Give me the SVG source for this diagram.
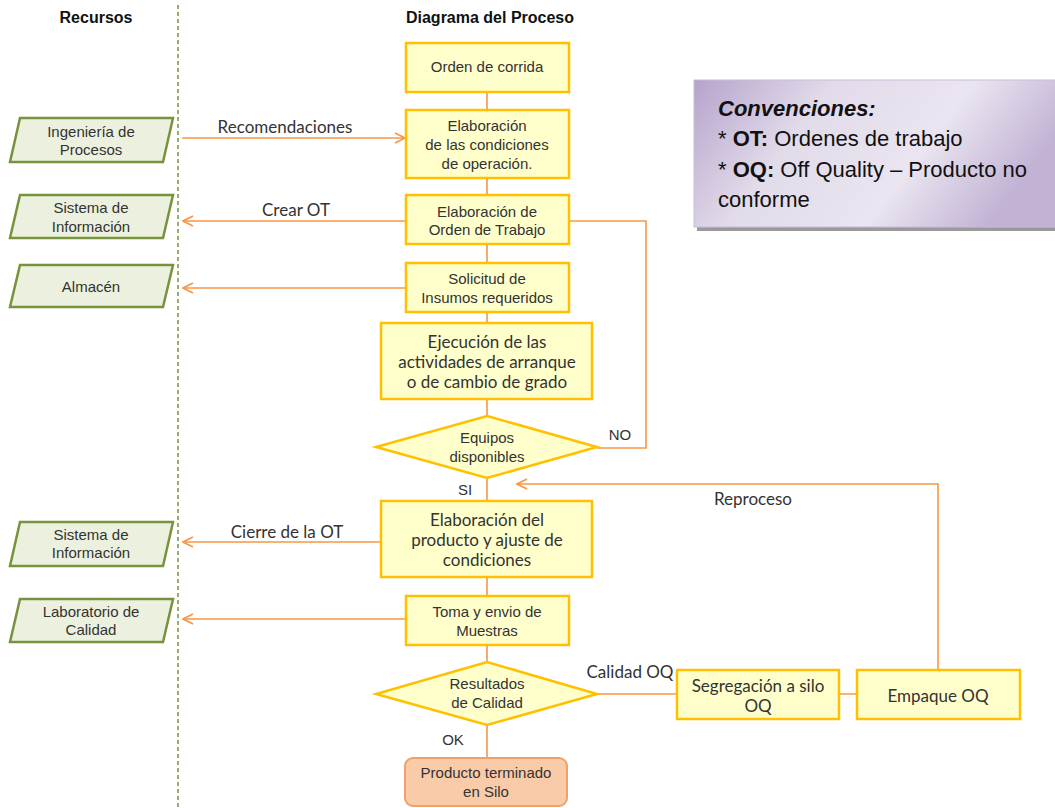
<svg xmlns="http://www.w3.org/2000/svg" width="1055" height="808" viewBox="0 0 1055 808">
  <style>
    .box { fill: #FFFFCC; stroke: #FFC000; stroke-width: 2.5; }
    .end { fill: #F9CBA9; stroke: #EDA26C; stroke-width: 2; }
    .res { fill: #EBF1DE; stroke: #77933C; stroke-width: 2.5; }
    .wire { fill: none; stroke: #F79646; stroke-width: 1.6; }
    .a { font-family: "Liberation Sans", Arial, sans-serif; font-size: 15px; fill: #333333; text-anchor: middle; }
    .c { font-family: Lato, "Open Sans", sans-serif; font-size: 17px; fill: #333333; text-anchor: middle; }
    .title { font-family: "Liberation Sans", Arial, sans-serif; font-size: 16px; font-weight: bold; fill: #111111; text-anchor: middle; }
    .legend { font-family: "Liberation Sans", Arial, sans-serif; font-size: 22px; fill: #111111; }
  </style>
  <defs>
    <marker id="arrow" viewBox="0 0 12 12" refX="11" refY="6" markerWidth="12" markerHeight="12" markerUnits="userSpaceOnUse" orient="auto">
      <path d="M1 1 L11 6 L1 11" fill="none" stroke="#F79646" stroke-width="1.6"/>
    </marker>
    <linearGradient id="legendFill" x1="0" y1="0" x2="1" y2="0.3">
      <stop offset="0" stop-color="#B5A3CB"/>
      <stop offset="0.35" stop-color="#E2DBEA"/>
      <stop offset="0.7" stop-color="#EAE5F0"/>
      <stop offset="1" stop-color="#C2B3D5"/>
    </linearGradient>
  </defs>

  <rect width="1055" height="808" fill="#FFFFFF"/>

  <!-- swimlane divider -->
  <line x1="178" y1="5" x2="178" y2="808" stroke="#77933C" stroke-width="1.5" stroke-dasharray="4 3"/>

  <!-- column headings -->
  <text class="title" x="96" y="23">Recursos</text>
  <text class="title" x="490" y="23">Diagrama del Proceso</text>

  <!-- connectors -->
  <g id="connectors">
    <path class="wire" d="M487 92 V110 M487 178 V195 M487 244 V263 M487 312 V323 M487 399 V416"/>
    <path class="wire" d="M487 478 V501 M487 577 V596 M487 645 V662 M487 725 V758"/>
    <path class="wire" d="M182 138 H405" marker-end="url(#arrow)"/>
    <path class="wire" d="M406 221 H183" marker-end="url(#arrow)"/>
    <path class="wire" d="M406 288 H183" marker-end="url(#arrow)"/>
    <path class="wire" d="M381 542 H183" marker-end="url(#arrow)"/>
    <path class="wire" d="M406 619 H183" marker-end="url(#arrow)"/>
    <path class="wire" d="M569 221 H646 V448 H597"/>
    <path class="wire" d="M938 670 V484 H517" marker-end="url(#arrow)"/>
    <path class="wire" d="M597 694 H677 M839 694 H857"/>
    <text class="c" x="285" y="133">Recomendaciones</text>
    <text class="c" x="296" y="216">Crear OT</text>
    <text class="c" x="287" y="538">Cierre de la OT</text>
    <text class="a" x="620" y="440">NO</text>
    <text class="a" x="465" y="495">SI</text>
    <text class="c" x="753" y="505">Reproceso</text>
    <text class="c" x="630" y="678">Calidad OQ</text>
    <text class="a" x="453" y="745">OK</text>
  </g>

  <!-- resources -->
  <g id="res-ingenieria">
    <path class="res" d="M20 118 H173 L163 162 H10 Z"/>
    <text class="a" x="91" y="137">Ingeniería de</text>
    <text class="a" x="91" y="155">Procesos</text>
  </g>
  <g id="res-sistema-1">
    <path class="res" d="M20 195 H173 L163 238 H10 Z"/>
    <text class="a" x="91" y="213">Sistema de</text>
    <text class="a" x="91" y="232">Información</text>
  </g>
  <g id="res-almacen">
    <path class="res" d="M20 265 H173 L163 307 H10 Z"/>
    <text class="a" x="91" y="292">Almacén</text>
  </g>
  <g id="res-sistema-2">
    <path class="res" d="M20 522 H173 L163 566 H10 Z"/>
    <text class="a" x="91" y="540">Sistema de</text>
    <text class="a" x="91" y="558">Información</text>
  </g>
  <g id="res-laboratorio">
    <path class="res" d="M20 599 H173 L163 642 H10 Z"/>
    <text class="a" x="91" y="617">Laboratorio de</text>
    <text class="a" x="91" y="635">Calidad</text>
  </g>

  <!-- process steps -->
  <g id="orden-corrida">
    <rect class="box" x="406" y="43" width="163" height="49"/>
    <text class="a" x="487" y="72">Orden de corrida</text>
  </g>
  <g id="condiciones">
    <rect class="box" x="406" y="110" width="163" height="68"/>
    <text class="a" x="487" y="131">Elaboración</text>
    <text class="a" x="487" y="150">de las condiciones</text>
    <text class="a" x="487" y="169">de operación.</text>
  </g>
  <g id="orden-trabajo">
    <rect class="box" x="406" y="195" width="163" height="49"/>
    <text class="a" x="487" y="217">Elaboración de</text>
    <text class="a" x="487" y="235">Orden de Trabajo</text>
  </g>
  <g id="solicitud">
    <rect class="box" x="406" y="263" width="163" height="49"/>
    <text class="a" x="487" y="284">Solicitud de</text>
    <text class="a" x="487" y="303">Insumos requeridos</text>
  </g>
  <g id="ejecucion">
    <rect class="box" x="381" y="323" width="211" height="76"/>
    <text class="c" x="487" y="348">Ejecución de las</text>
    <text class="c" x="487" y="368">actividades de arranque</text>
    <text class="c" x="487" y="388">o de cambio de grado</text>
  </g>
  <g id="equipos">
    <path class="box" d="M487 416 L597 447 L487 478 L376 447 Z"/>
    <text class="a" x="487" y="443">Equipos</text>
    <text class="a" x="487" y="462">disponibles</text>
  </g>
  <g id="elaboracion-producto">
    <rect class="box" x="381" y="501" width="211" height="76"/>
    <text class="c" x="487" y="526">Elaboración del</text>
    <text class="c" x="487" y="546">producto y ajuste de</text>
    <text class="c" x="487" y="566">condiciones</text>
  </g>
  <g id="muestras">
    <rect class="box" x="406" y="596" width="163" height="49"/>
    <text class="a" x="487" y="617">Toma y envio de</text>
    <text class="a" x="487" y="636">Muestras</text>
  </g>
  <g id="resultados">
    <path class="box" d="M487 662 L597 694 L487 725 L376 694 Z"/>
    <text class="a" x="487" y="689">Resultados</text>
    <text class="a" x="487" y="708">de Calidad</text>
  </g>
  <g id="producto-terminado">
    <rect class="end" x="405" y="758" width="162" height="48" rx="8"/>
    <text class="a" x="486" y="778">Producto terminado</text>
    <text class="a" x="486" y="797">en Silo</text>
  </g>
  <g id="segregacion">
    <rect class="box" x="677" y="670" width="162" height="49"/>
    <text class="c" x="758" y="692">Segregación a silo</text>
    <text class="c" x="758" y="712">OQ</text>
  </g>
  <g id="empaque">
    <rect class="box" x="857" y="670" width="163" height="49"/>
    <text class="c" x="938" y="702">Empaque OQ</text>
  </g>

  <!-- legend -->
  <g id="convenciones">
    <rect x="697" y="84" width="370" height="147" fill="#9A9A9A"/>
    <rect x="694" y="80" width="370" height="147" fill="url(#legendFill)" stroke="#C9BDDA" stroke-width="1"/>
    <text class="legend" x="718" y="116" font-weight="bold" font-style="italic">Convenciones:</text>
    <text class="legend" x="718" y="146">* <tspan font-weight="bold">OT:</tspan> Ordenes de trabajo</text>
    <text class="legend" x="718" y="177">* <tspan font-weight="bold">OQ:</tspan> Off Quality – Producto no</text>
    <text class="legend" x="718" y="207">conforme</text>
  </g>
</svg>
